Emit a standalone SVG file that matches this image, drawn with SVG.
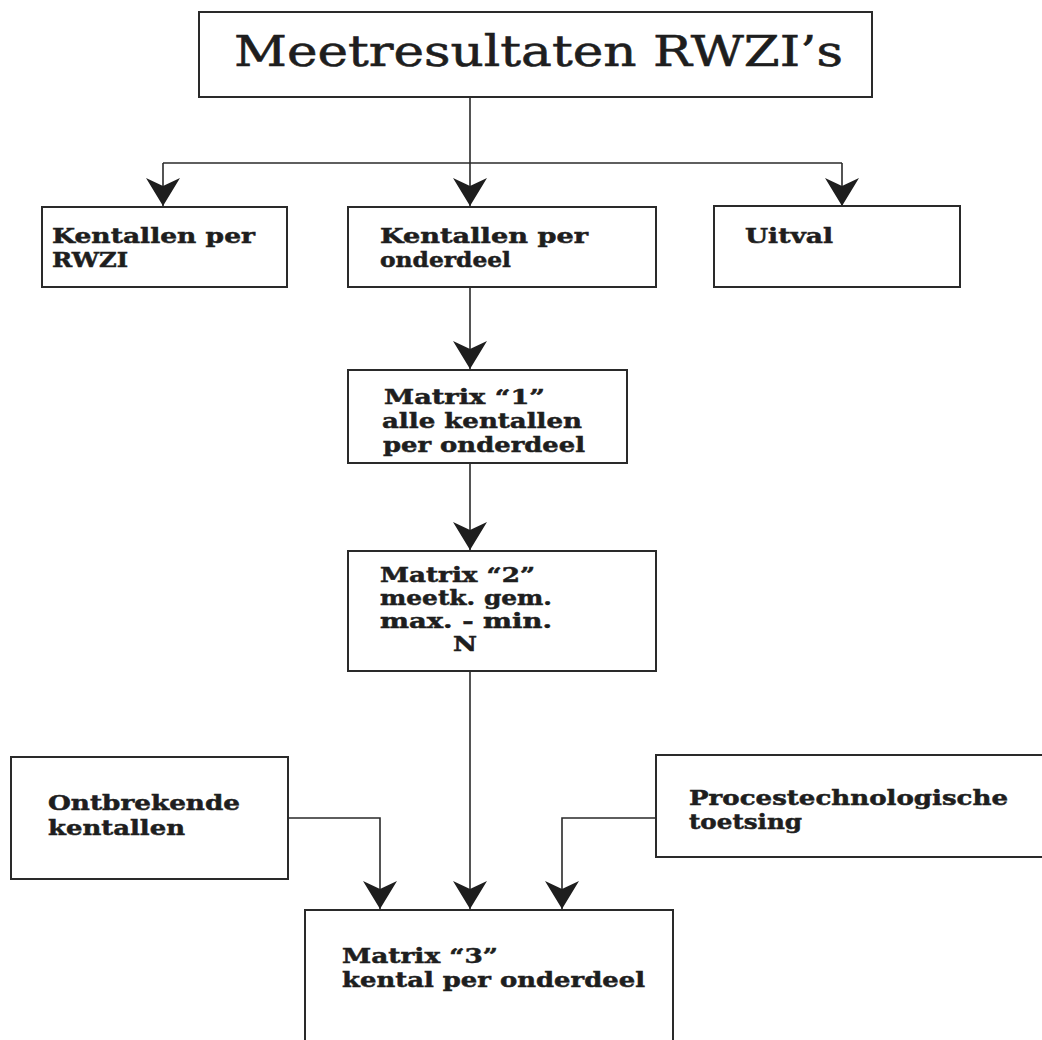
<svg xmlns="http://www.w3.org/2000/svg" width="1042" height="1040" viewBox="0 0 1042 1040">
  <style>
    .box { fill: #ffffff; stroke: #2a2a2a; stroke-width: 2; }
    .wire { fill: none; stroke: #2a2a2a; stroke-width: 1.6; }
    .lbl { font-family: "DejaVu Serif", "Liberation Serif", serif; font-weight: bold; font-size: 21px; fill: #1e1e1e; stroke: #1e1e1e; stroke-width: 0.5; }
    .tight { font-size: 20px; }
    .title { font-family: "DejaVu Serif", "Liberation Serif", serif; font-size: 43px; fill: #1e1e1e; stroke: #1e1e1e; stroke-width: 0.6; }
  </style>
  <defs>
    <!-- filled chevron head, drawn along +x so it follows the line direction -->
    <marker id="arrow" markerUnits="userSpaceOnUse" viewBox="-30 -18 32 36" refX="0" refY="0" markerWidth="32" markerHeight="36" orient="auto">
      <path d="M0 0 L-28 -17 L-20 0 L-28 17 Z" fill="#1e1e1e"/>
    </marker>
  </defs>
  <rect width="1042" height="1040" fill="#ffffff"/>

  <!-- connectors -->
  <g id="connectors">
    <path class="wire" d="M470 98 V163"/>
    <path class="wire" d="M163 163 H842"/>
    <path class="wire" d="M163 163 V206" marker-end="url(#arrow)"/>
    <path class="wire" d="M470 163 V206" marker-end="url(#arrow)"/>
    <path class="wire" d="M842 163 V206" marker-end="url(#arrow)"/>
    <path class="wire" d="M470 287 V369" marker-end="url(#arrow)"/>
    <path class="wire" d="M470 463 V550" marker-end="url(#arrow)"/>
    <path class="wire" d="M470 671 V909" marker-end="url(#arrow)"/>
    <path class="wire" d="M288 818 H380 V909" marker-end="url(#arrow)"/>
    <path class="wire" d="M656 818 H562 V909" marker-end="url(#arrow)"/>
  </g>

  <g id="meetresultaten">
    <rect class="box" x="199" y="12" width="673" height="85"/>
    <text class="title" x="234" y="66" textLength="609" lengthAdjust="spacingAndGlyphs">Meetresultaten RWZI’s</text>
  </g>

  <g id="kentallen-rwzi">
    <rect class="box" x="42" y="207" width="245" height="80"/>
    <text class="lbl" x="52" y="243" textLength="203" lengthAdjust="spacingAndGlyphs">Kentallen per</text>
    <text class="lbl" x="52" y="267" textLength="76" lengthAdjust="spacingAndGlyphs">RWZI</text>
  </g>

  <g id="kentallen-onderdeel">
    <rect class="box" x="348" y="207" width="308" height="80"/>
    <text class="lbl" x="380" y="243" textLength="208" lengthAdjust="spacingAndGlyphs">Kentallen per</text>
    <text class="lbl" x="380" y="267" textLength="131" lengthAdjust="spacingAndGlyphs">onderdeel</text>
  </g>

  <g id="uitval">
    <rect class="box" x="714" y="206" width="246" height="81"/>
    <text class="lbl" x="745" y="243" textLength="88" lengthAdjust="spacingAndGlyphs">Uitval</text>
  </g>

  <g id="matrix-1">
    <rect class="box" x="348" y="370" width="279" height="93"/>
    <text class="lbl" x="384" y="404" textLength="161" lengthAdjust="spacingAndGlyphs">Matrix “1”</text>
    <text class="lbl" x="382" y="428" textLength="200" lengthAdjust="spacingAndGlyphs">alle kentallen</text>
    <text class="lbl" x="383" y="452" textLength="202" lengthAdjust="spacingAndGlyphs">per onderdeel</text>
  </g>

  <g id="matrix-2">
    <rect class="box" x="348" y="551" width="308" height="120"/>
    <text class="lbl tight" x="380" y="582" textLength="155" lengthAdjust="spacingAndGlyphs">Matrix “2”</text>
    <text class="lbl tight" x="380" y="605" textLength="172" lengthAdjust="spacingAndGlyphs">meetk. gem.</text>
    <text class="lbl tight" x="380" y="628" textLength="172" lengthAdjust="spacingAndGlyphs">max. - min.</text>
    <text class="lbl tight" x="453" y="651" textLength="24" lengthAdjust="spacingAndGlyphs">N</text>
  </g>

  <g id="ontbrekende-kentallen">
    <rect class="box" x="11" y="757" width="277" height="122"/>
    <text class="lbl" x="48" y="810" textLength="192" lengthAdjust="spacingAndGlyphs">Ontbrekende</text>
    <text class="lbl" x="48" y="835" textLength="137" lengthAdjust="spacingAndGlyphs">kentallen</text>
  </g>

  <g id="procestechnologische-toetsing">
    <rect class="box" x="656" y="755" width="400" height="102"/>
    <text class="lbl" x="689" y="805" textLength="319" lengthAdjust="spacingAndGlyphs">Procestechnologische</text>
    <text class="lbl" x="689" y="829" textLength="113" lengthAdjust="spacingAndGlyphs">toetsing</text>
  </g>

  <g id="matrix-3">
    <rect class="box" x="305" y="910" width="368" height="140"/>
    <text class="lbl" x="342" y="963" textLength="156" lengthAdjust="spacingAndGlyphs">Matrix “3”</text>
    <text class="lbl" x="342" y="987" textLength="303" lengthAdjust="spacingAndGlyphs">kental per onderdeel</text>
  </g>
</svg>
